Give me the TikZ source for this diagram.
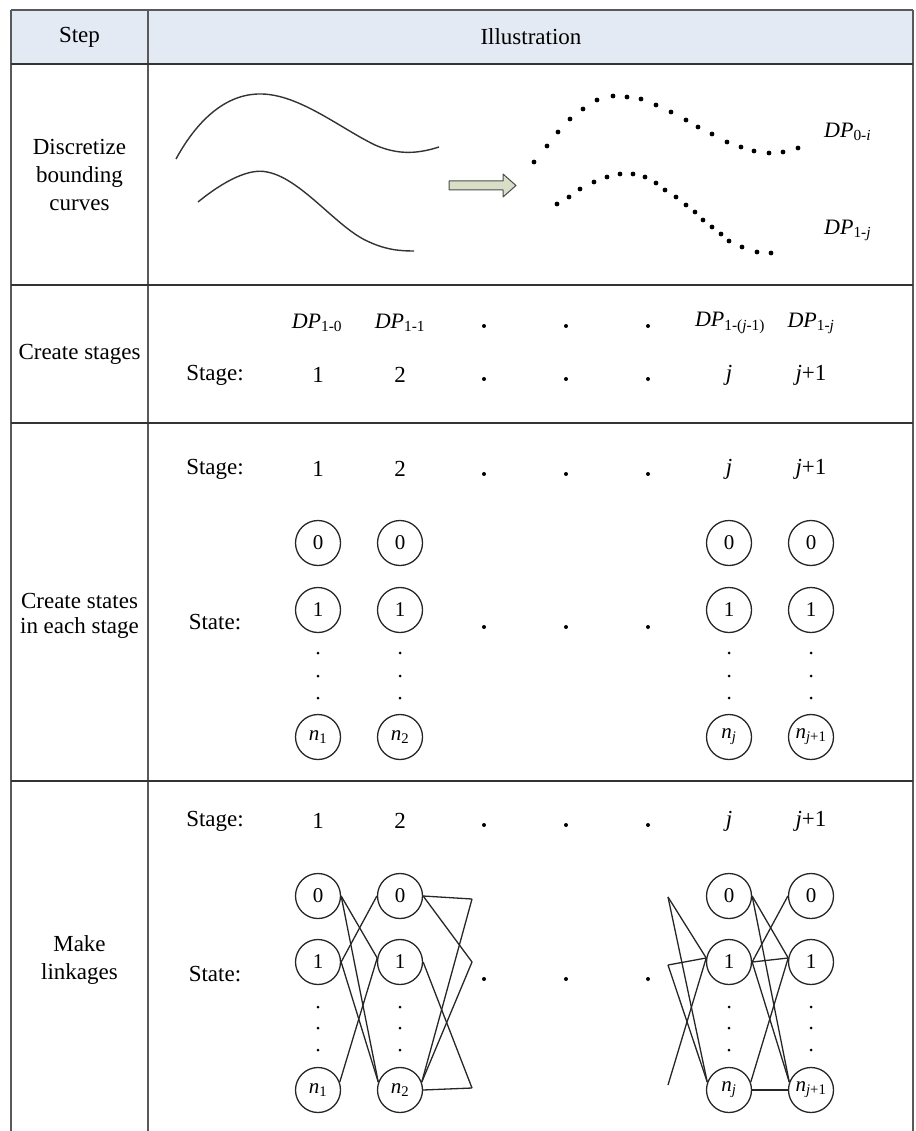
\documentclass[tikz,border=0pt]{standalone}
\usepackage{fontspec}
\setmainfont{Liberation Serif}
\definecolor{hdrfill}{HTML}{E4EAF4}
\definecolor{arrowfill}{HTML}{D8DFC6}
\begin{document}
\begin{tikzpicture}[x=1pt,y=-1pt,
  every node/.style={font=\fontsize{23}{28}\selectfont, inner sep=0pt},
  vline/.style={draw=black!65, line width=2pt},
  hline/.style={draw=black!80, line width=2.6pt},
  st/.style={circle, draw=black!85, line width=1.3pt, minimum size=45pt, inner sep=0pt, font=\fontsize{21}{21}\selectfont},
  lk/.style={draw=black!85, line width=1.3pt},
  crv/.style={draw=black!80, line width=1.4pt},
  dplbl/.style={font=\fontsize{22}{22}\selectfont},
  stepcell/.style={align=center, font=\fontsize{23}{28}\selectfont}
]
\useasboundingbox (0,0) rectangle (915,1131);
% header
\fill[hdrfill] (11,10) rectangle (913,64);
% table lines
\draw[vline] (11,10) -- (11,1131);
\draw[vline] (148,10) -- (148,1131);
\draw[vline] (913,10) -- (913,1131);
\draw[vline] (11,10) -- (913,10);
\draw[hline] (11,64) -- (913,64);
\draw[hline] (11,285) -- (913,285);
\draw[hline] (11,423) -- (913,423);
\draw[hline] (11,781) -- (913,781);

% left column
\node (hstep) at (79.5,37) {Step};
\node (hill) at (531,37) {Illustration};
\node[stepcell] (s1) at (79.5,175) {Discretize\\bounding\\curves};
\node[stepcell] (s2) at (79.5,354) {Create stages};
\node[stepcell, font=\fontsize{23}{25}\selectfont] (s3) at (79.5,616) {Create states\\in each stage};
\node[stepcell] (s4) at (79.5,960) {Make\\linkages};

% row 1: curves
\draw[crv] (176,159) .. controls (200,115) and (230,93) .. (262,94)
  .. controls (300,95) and (340,128) .. (375,145)
  .. controls (400,156) and (420,153) .. (439,147);
\draw[crv] (198,202) .. controls (225,180) and (250,168) .. (267,172)
  .. controls (300,178) and (335,225) .. (365,240)
  .. controls (385,250) and (400,251) .. (414,251);
% arrow
\draw[draw=black!70, fill=arrowfill, line width=1pt, line join=round]
  (449,181) -- (503,181) -- (503,174) -- (516,185.5) -- (503,197) -- (503,190) -- (449,190) -- cycle;
% dotted curves
\foreach \p in {(534,162), (547,146), (558,132), (570,119), (583,109), (597,100), (613,96), (627,97), (641,99), (656,105), (671,112), (686,120), (698,127), (712,134), (727,142), (741,147), (754,151), (769,153), (783,152), (798,148)}
  \fill \p circle (2.4pt);
\foreach \p in {(557,204), (569,197), (580,189), (594,182), (607,177), (620,174), (633,174), (645,177), (656,183), (665,190), (676,197), (686,205), (695,212), (703,220), (712,227), (721,234), (729,241), (742,247), (757,252), (771,253)}
  \fill \p circle (2.4pt);
\node[dplbl, anchor=west] (dp0i) at (824,132) {\textit{DP}\textsubscript{0-\textit{i}}};
\node[dplbl, anchor=west] (dp1j) at (824,230) {\textit{DP}\textsubscript{1-\textit{j}}};

% row 2
\node[dplbl] (r2a) at (317,323) {\textit{DP}\textsubscript{1-0}};
\node[dplbl] (r2b) at (400,323) {\textit{DP}\textsubscript{1-1}};
\node[dplbl] (r2c) at (730,323) {\textit{DP}\textsubscript{1-(\textit{j}-1)}};
\node[dplbl] (r2d) at (811,323) {\textit{DP}\textsubscript{1-\textit{j}}};
\node (r2s) at (215,375) {Stage:};
\node (r2s1) at (318,375) {1};
\node (r2s2) at (400,375) {2};
\node (r2sj) at (729,375) {\textit{j}};
\node (r2sj1) at (811,375) {\textit{j}+1};
\foreach \x in {484,566,648} {
  \fill (\x,326) circle (2pt);
  \fill (\x,379) circle (2pt);
}

% row 3
\node (r3s) at (215,469) {Stage:};
\node (r3s1) at (318,469) {1};
\node (r3s2) at (400,469) {2};
\node (r3sj) at (729,469) {\textit{j}};
\node (r3sj1) at (811,469) {\textit{j}+1};
\node (r3st) at (215,622) {State:};
\foreach \x in {484,566,648} {
  \fill (\x,474) circle (2pt);
  \fill (\x,627) circle (2pt);
}
\node[st] (p0) at (318,543) {0};
\node[st] (p1) at (318,610) {1};
\node[st] (pn) at (318,737) {\textit{n}\textsubscript{1}};
\node[st] (q0) at (400,543) {0};
\node[st] (q1) at (400,610) {1};
\node[st] (qn) at (400,737) {\textit{n}\textsubscript{2}};
\node[st] (u0) at (729,543) {0};
\node[st] (u1) at (729,610) {1};
\node[st] (un) at (729,737) {\textit{n}\textsubscript{\textit{j}}};
\node[st] (v0) at (811,543) {0};
\node[st] (v1) at (811,610) {1};
\node[st] (vn) at (811,737) {\textit{n}\textsubscript{\textit{j}+1}};
\foreach \x in {318,400,729,811} \foreach \y in {653,676,698}
  \fill (\x,\y) circle (1.5pt);

% row 4
\node (r4s) at (215,821) {Stage:};
\node (r4s1) at (318,821) {1};
\node (r4s2) at (400,821) {2};
\node (r4sj) at (729,821) {\textit{j}};
\node (r4sj1) at (811,821) {\textit{j}+1};
\node (r4st) at (215,974) {State:};
\foreach \x in {484,566,648} {
  \fill (\x,825) circle (2pt);
  \fill (\x,979) circle (2pt);
}
\node[st] (a0) at (318,896) {0};
\node[st] (a1) at (318,962) {1};
\node[st] (an) at (318,1090) {\textit{n}\textsubscript{1}};
\node[st] (b0) at (400,896) {0};
\node[st] (b1) at (400,962) {1};
\node[st] (bn) at (400,1090) {\textit{n}\textsubscript{2}};
\node[st] (c0) at (729,896) {0};
\node[st] (c1) at (729,962) {1};
\node[st] (cn) at (729,1090) {\textit{n}\textsubscript{\textit{j}}};
\node[st] (d0) at (811,896) {0};
\node[st] (d1) at (811,962) {1};
\node[st] (dn) at (811,1090) {\textit{n}\textsubscript{\textit{j}+1}};
\foreach \x in {318,400,729,811} \foreach \y in {1007,1028,1050}
  \fill (\x,\y) circle (1.5pt);

% free ends
\coordinate (ea) at (472,899);
\coordinate (eb) at (472,962);
\coordinate (ec) at (472,1088);
\coordinate (fa) at (668,897);
\coordinate (fb) at (668,965);
\coordinate (fc) at (668,1085);

% links stage 1 -> 2
\draw[lk] (a0.east) -- (b1.170);
\draw[lk] (a0.east) -- (bn.160);
\draw[lk] (a1.east) -- (b0.west);
\draw[lk] (a1.east) -- (bn.160);
\draw[lk] (an.20) -- (b1.170);
% links out of stage 2
\draw[lk] (b0.east) -- (ea);
\draw[lk] (b0.east) -- (eb);
\draw[lk] (b1.east) -- (ec);
\draw[lk] (bn.20) -- (ea);
\draw[lk] (bn.20) -- (eb);
\draw[lk] (bn.east) -- (ec);
% links into stage j
\draw[lk] (fa) -- (c1.170);
\draw[lk] (fa) -- (cn.160);
\draw[lk] (fb) -- (c1.170);
\draw[lk] (fb) -- (cn.160);
\draw[lk] (fc) -- (c1.170);
% links stage j -> j+1
\draw[lk] (c0.east) -- (d1.170);
\draw[lk] (c0.east) -- (dn.160);
\draw[lk] (c1.east) -- (d0.west);
\draw[lk] (c1.east) -- (d1.170);
\draw[lk] (c1.east) -- (dn.160);
\draw[lk] (cn.20) -- (d1.170);
\draw[lk] (cn.east) -- (dn.west);
\end{tikzpicture}
\end{document}
